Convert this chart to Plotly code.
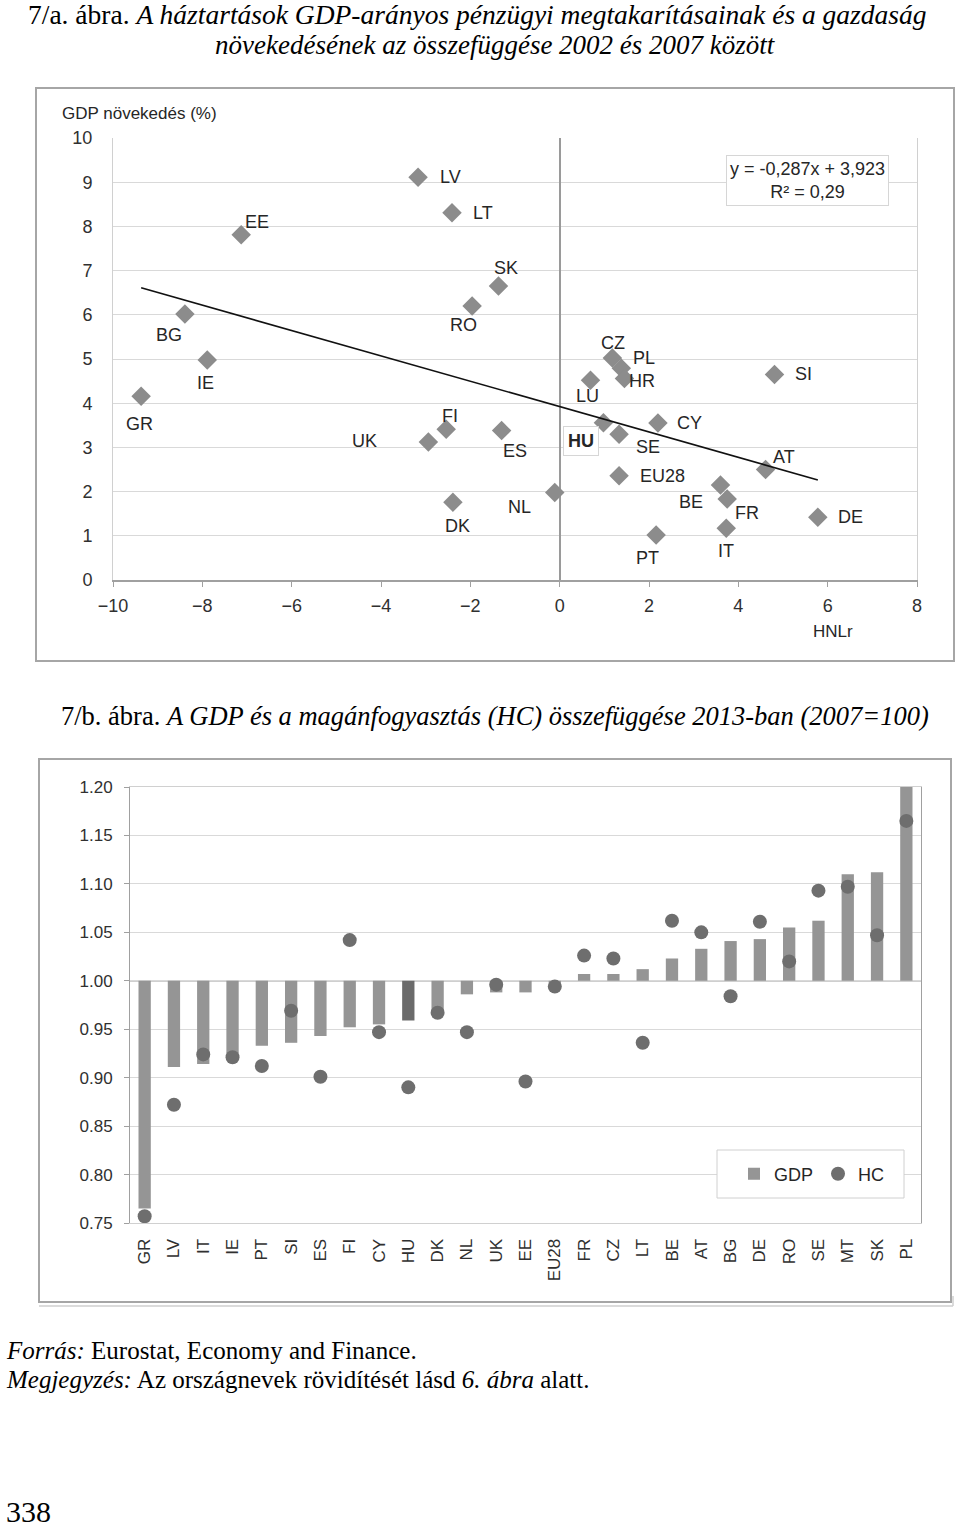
import plotly.graph_objects as go

W, H = 960, 1530

# ---------------- Chart 7/a data ----------------
countries_a = ["GR", "BG", "IE", "EE", "LV", "LT", "RO", "SK", "UK", "FI", "DK", "ES", "NL", "LU",
               "CZ", "PL", "HR", "HU", "SE", "CY", "EU28", "PT", "BE", "FR", "IT", "AT", "DE", "SI"]
hnlr = [-9.37, -8.39, -7.89, -7.13, -3.17, -2.41, -1.96, -1.37, -2.94, -2.54, -2.39, -1.30, -0.11, 0.69,
        1.18, 1.38, 1.45, 0.98, 1.33, 2.20, 1.33, 2.16, 3.60, 3.75, 3.73, 4.61, 5.78, 4.81]
gdp_growth = [4.16, 6.02, 4.98, 7.81, 9.11, 8.31, 6.20, 6.65, 3.12, 3.41, 1.76, 3.38, 1.98, 4.52,
              5.02, 4.79, 4.56, 3.56, 3.30, 3.55, 2.36, 1.02, 2.15, 1.83, 1.17, 2.50, 1.42, 4.65]
trend_slope = -0.287
trend_intercept = 3.923
r_squared = 0.29

# label offsets in pixels (dx right, dy down) - style only
label_offsets = {
    "GR": (-2, 28), "BG": (-16, 21), "IE": (-2, 23), "EE": (16, -13), "LV": (32, 0), "LT": (31, 0),
    "RO": (-9, 19), "SK": (8, -18), "UK": (-64, -1), "FI": (4, -13), "DK": (5, 24), "ES": (13, 20),
    "NL": (-35, 15), "LU": (-3, 16), "CZ": (1, -15), "PL": (23, -10), "HR": (18, 3), "HU": (-22, 18),
    "SE": (29, 13), "CY": (32, 0), "EU28": (43, 0), "PT": (-9, 23), "BE": (-29, 17), "FR": (20, 14),
    "IT": (0, 23), "AT": (18, -13), "DE": (33, 0), "SI": (29, 0),
}

# ---------------- Chart 7/b data ----------------
countries_b = ["GR", "LV", "IT", "IE", "PT", "SI", "ES", "FI", "CY", "HU", "DK", "NL", "UK", "EE",
               "EU28", "FR", "CZ", "LT", "BE", "AT", "BG", "DE", "RO", "SE", "MT", "SK", "PL"]
gdp_2013 = [0.765, 0.911, 0.914, 0.922, 0.933, 0.936, 0.943, 0.952, 0.955, 0.959, 0.966, 0.986, 0.988, 0.988,
            0.997, 1.007, 1.007, 1.012, 1.023, 1.033, 1.041, 1.043, 1.055, 1.062, 1.110, 1.112, 1.200]
hc_2013 = [0.757, 0.872, 0.924, 0.921, 0.912, 0.969, 0.901, 1.042, 0.947, 0.890, 0.967, 0.947, 0.996, 0.896,
           0.994, 1.026, 1.023, 0.936, 1.062, 1.050, 0.984, 1.061, 1.020, 1.093, 1.097, 1.047, 1.165]
base_year_index = 1.0

SANS = "Liberation Sans, Arial, sans-serif"
SERIF = "Liberation Serif, Times New Roman, serif"
TXT = "#262626"


def px_x(px):
    return px / W


def px_y(py):
    return 1 - py / H


fig = go.Figure()

# ---------- scatter 7/a ----------
fig.add_trace(go.Scatter(
    x=hnlr, y=gdp_growth, mode="markers", text=countries_a,
    marker=dict(symbol="diamond", size=15, color="#8c8c8c"),
    xaxis="x", yaxis="y", showlegend=False, hovertemplate="%{text}: %{x}, %{y}<extra></extra>"))

tx = [min(hnlr), max(hnlr)]
ty = [trend_slope * v + trend_intercept for v in tx]
fig.add_trace(go.Scatter(x=tx, y=ty, mode="lines", line=dict(color="#111111", width=1.6),
                         xaxis="x", yaxis="y", showlegend=False, hoverinfo="skip"))

annotations = []
for c, xv, yv in zip(countries_a, hnlr, gdp_growth):
    dx, dy = label_offsets[c]
    a = dict(x=xv, y=yv, xref="x", yref="y", text=c, showarrow=False, xshift=dx, yshift=-dy,
             font=dict(family=SANS, size=18, color=TXT))
    if c == "HU":
        a.update(text="<b>HU</b>", bordercolor="#d6d6d6", borderwidth=1, borderpad=4, bgcolor="white")
    annotations.append(a)

eq_text = "y = %sx + %s<br>R² = %s" % (
    ("%.3f" % trend_slope).replace(".", ","),
    ("%.3f" % trend_intercept).replace(".", ","),
    ("%.2f" % r_squared).replace(".", ","))
annotations.append(dict(x=px_x(807), y=px_y(180), xref="paper", yref="paper", text=eq_text, showarrow=False,
                        font=dict(family=SANS, size=18, color=TXT), bordercolor="#d6d6d6", borderwidth=1,
                        borderpad=3, bgcolor="white", xanchor="center", yanchor="middle"))
annotations.append(dict(x=px_x(60), y=px_y(114), xref="paper", yref="paper", text="GDP növekedés (%)",
                        showarrow=False, xanchor="left", yanchor="middle",
                        font=dict(family=SANS, size=17, color=TXT)))
annotations.append(dict(x=px_x(833), y=px_y(631), xref="paper", yref="paper", text="HNLr",
                        showarrow=False, xanchor="center", yanchor="middle",
                        font=dict(family=SANS, size=17, color=TXT)))

# ---------- bars 7/b ----------
bar_colors = ["#6b6b6b" if c == "HU" else "#959595" for c in countries_b]
fig.add_trace(go.Bar(
    x=countries_b, y=[g - base_year_index for g in gdp_2013], base=base_year_index,
    marker=dict(color=bar_colors, line=dict(width=0)), name="GDP",
    xaxis="x2", yaxis="y2", customdata=gdp_2013, hovertemplate="%{x}: %{customdata}<extra>GDP</extra>"))
fig.add_trace(go.Scatter(
    x=countries_b, y=hc_2013, mode="markers", name="HC",
    marker=dict(symbol="circle", size=14, color="#6e6e6e"),
    xaxis="x2", yaxis="y2"))

# ---------- titles and notes ----------
annotations += [
    dict(x=px_x(477), y=px_y(15), xref="paper", yref="paper", showarrow=False, xanchor="center", yanchor="middle",
         text="7/a. ábra. <i>A háztartások GDP-arányos pénzügyi megtakarításainak és a gazdaság</i>",
         font=dict(family=SERIF, size=27.5, color="black")),
    dict(x=px_x(495), y=px_y(45), xref="paper", yref="paper", showarrow=False, xanchor="center", yanchor="middle",
         text="<i>növekedésének az összefüggése 2002 és 2007 között</i>",
         font=dict(family=SERIF, size=27, color="black")),
    dict(x=px_x(495), y=px_y(716), xref="paper", yref="paper", showarrow=False, xanchor="center", yanchor="middle",
         text="7/b. ábra. <i>A GDP és a magánfogyasztás (HC) összefüggése 2013-ban (2007=100)</i>",
         font=dict(family=SERIF, size=26.5, color="black")),
    dict(x=px_x(4), y=px_y(1350), xref="paper", yref="paper", showarrow=False, xanchor="left", yanchor="middle",
         text="<i>Forrás:</i> Eurostat, Economy and Finance.",
         font=dict(family=SERIF, size=25, color="black")),
    dict(x=px_x(4), y=px_y(1379), xref="paper", yref="paper", showarrow=False, xanchor="left", yanchor="middle",
         text="<i>Megjegyzés:</i> Az országnevek rövidítését lásd <i>6. ábra</i> alatt.",
         font=dict(family=SERIF, size=25, color="black")),
    dict(x=px_x(4), y=px_y(1511), xref="paper", yref="paper", showarrow=False, xanchor="left", yanchor="middle",
         text="338", font=dict(family=SERIF, size=30, color="black")),
]

shapes = [
    # outer frames
    dict(type="rect", xref="paper", yref="paper", x0=px_x(36), x1=px_x(954), y0=px_y(661), y1=px_y(88),
         line=dict(color="#a6a6a6", width=2), layer="below"),
    dict(type="rect", xref="paper", yref="paper", x0=px_x(39), x1=px_x(951), y0=px_y(1302), y1=px_y(759),
         line=dict(color="#a6a6a6", width=2), layer="below"),
    dict(type="line", xref="paper", yref="paper", x0=px_x(39), x1=px_x(953), y0=px_y(1306), y1=px_y(1306),
         line=dict(color="#cfcfcf", width=1.5), layer="below"),
    dict(type="line", xref="paper", yref="paper", x0=px_x(953), x1=px_x(953), y0=px_y(1306), y1=px_y(1296),
         line=dict(color="#cfcfcf", width=1.5), layer="below"),
    # 1.00 reference axis line in bar chart
    dict(type="line", xref="x2 domain", yref="y2", x0=0, x1=1, y0=base_year_index, y1=base_year_index,
         line=dict(color="#a0a0a0", width=1.5), layer="below"),
    # legend box
    dict(type="rect", xref="paper", yref="paper", x0=px_x(717), x1=px_x(904), y0=px_y(1198), y1=px_y(1150),
         line=dict(color="#d0d0d0", width=1), fillcolor="white", layer="above"),
]

fig.update_layout(
    width=W, height=H, margin=dict(l=0, r=0, t=0, b=0, autoexpand=False),
    paper_bgcolor="white", plot_bgcolor="white",
    font=dict(family=SANS, color=TXT),
    xaxis=dict(domain=[px_x(113), px_x(917)], anchor="y", range=[-10, 8], tick0=-10, dtick=2,
               automargin=False,
               showgrid=False, zeroline=True, zerolinecolor="#9a9a9a", zerolinewidth=1.5,
               showline=True, linecolor="#a0a0a0", linewidth=1.5, ticks="outside", ticklen=5,
               tickcolor="#a0a0a0", ticklabelstandoff=4, tickfont=dict(size=18, color="#303030")),
    yaxis=dict(domain=[px_y(580), px_y(138)], anchor="x", range=[0, 10], dtick=1,
               automargin=False,
               showgrid=True, gridcolor="#d9d9d9", gridwidth=1, zeroline=False,
               showline=True, linecolor="#d0d0d0", mirror=True, ticks="",
               ticklabelstandoff=16, tickfont=dict(size=18, color="#303030")),
    xaxis2=dict(domain=[px_x(130), px_x(921)], anchor="y2", type="category", automargin=False,
                range=[-0.5, len(countries_b) - 0.5],
                tickangle=-90, tickfont=dict(size=17, color="#303030"), showgrid=False,
                showline=True, linecolor="#d0d0d0", mirror=True, ticks="", ticklabelstandoff=8),
    yaxis2=dict(domain=[px_y(1223), px_y(787)], anchor="x2", range=[0.75, 1.2], dtick=0.05, tick0=0.75,
                automargin=False,
                tickformat=".2f", showgrid=True, gridcolor="#d9d9d9", zeroline=False,
                showline=True, linecolor="#a0a0a0", mirror=True, ticks="outside", ticklen=5,
                tickcolor="#a0a0a0", ticklabelstandoff=8, tickfont=dict(size=17, color="#303030")),
    bargap=0.58,
    showlegend=True,
    legend=dict(orientation="h", x=px_x(812), y=px_y(1174), xanchor="center", yanchor="middle",
                bgcolor="rgba(0,0,0,0)", font=dict(family=SANS, size=18, color=TXT),
                itemwidth=30, traceorder="normal"),
    annotations=annotations,
    shapes=shapes,
)

fig.write_html("out.html", config={"displayModeBar": False},
               post_script="document.body.style.margin='0';document.body.style.padding='0';")
